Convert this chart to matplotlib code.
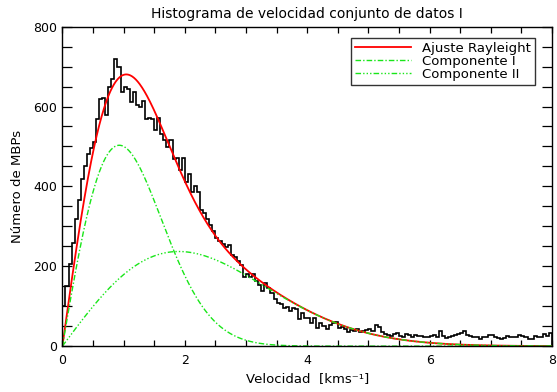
import numpy as np
import matplotlib
matplotlib.use("Agg")
import matplotlib.pyplot as plt
from matplotlib.ticker import MultipleLocator

# ---- data ----
bin_width = 0.05
bin_start = 0.0
counts = [
    100, 150, 205, 258, 318, 365, 418, 450, 480, 497,
    510, 570, 620, 622, 578, 648, 668, 718, 698, 637,
    650, 645, 612, 637, 604, 600, 614, 570, 571, 570,
    540, 572, 530, 516, 498, 515, 468, 472, 440, 470,
    412, 432, 385, 402, 385, 342, 333, 318, 304, 288,
    270, 263, 255, 248, 254, 228, 224, 212, 203, 172,
    180, 172, 180, 163, 154, 138, 158, 146, 133, 117,
    108, 106, 96, 99, 88, 96, 92, 67, 83, 71,
    70, 58, 71, 46, 58, 50, 42, 54, 58, 60,
    46, 47, 44, 35, 40, 38, 44, 36, 38, 40,
    42, 38, 52, 48, 35, 31, 28, 25, 30, 33,
    26, 24, 30, 28, 22, 29, 26, 25, 23, 22,
    26, 29, 24, 37, 26, 21, 22, 25, 28, 30,
    34, 38, 29, 26, 24, 23, 18, 24, 24, 29,
    27, 24, 20, 18, 21, 26, 24, 22, 22, 28,
    25, 22, 18, 19, 26, 24, 23, 30, 26, 33,
]

# Rayleigh fit components: peak height and position (sigma)
comp_names = ["Componente I", "Componente II"]
comp_peak = [503.0, 237.0]
comp_sigma = [0.93, 1.90]
fit_name = "Ajuste Rayleight"

title = "Histograma de velocidad conjunto de datos I"
xlabel = "Velocidad  [kms\u207b\u00b9]"
ylabel = "N\u00famero de MBPs"

# ---- plotting ----
plt.rcParams['font.family'] = ['DejaVu Sans']
fig = plt.figure(figsize=(5.57, 3.92), dpi=100)
ax = fig.add_axes([0.112, 0.117, 0.879, 0.815])

edges = bin_start + bin_width * np.arange(len(counts) + 1)
ax.stairs(counts, edges, color='black', lw=1.2, baseline=0)

x = np.linspace(0, 8, 800)
def rayleigh(xx, peak, s):
    u = xx / s
    return peak * u * np.exp(0.5 * (1 - u ** 2))

c1 = rayleigh(x, comp_peak[0], comp_sigma[0])
c2 = rayleigh(x, comp_peak[1], comp_sigma[1])
green = '#19e619'
ax.plot(x, c1 + c2, color='#ff0000', lw=1.3, label=fit_name)
ax.plot(x, c1, color=green, lw=1.0, ls=(0, (4, 1.5, 1, 1.5)), label=comp_names[0])
ax.plot(x, c2, color=green, lw=1.0, ls=(0, (4, 1.5, 1, 1.5, 1, 1.5, 1, 1.5)), label=comp_names[1])

ax.set_xlim(0, 8)
ax.set_ylim(0, 800)
ax.xaxis.set_major_locator(MultipleLocator(2))
ax.xaxis.set_minor_locator(MultipleLocator(0.5))
ax.yaxis.set_major_locator(MultipleLocator(200))
ax.yaxis.set_minor_locator(MultipleLocator(50))
ax.tick_params(axis='both', which='both', direction='in', top=True, right=True,
               labelsize=9, width=0.9)
ax.tick_params(axis='x', which='both', length=4, pad=6)
ax.tick_params(axis='y', which='both', length=7, pad=4)
for sp in ax.spines.values():
    sp.set_linewidth(1.0)

ax.set_title(title, fontsize=10, pad=6)
ax.set_xlabel(xlabel, fontsize=9.5, labelpad=3)
ax.set_ylabel(ylabel, fontsize=9.5, labelpad=6)

leg = ax.legend(loc='upper right', bbox_to_anchor=(0.965, 0.965), fontsize=9.5,
                handlelength=4.3, frameon=True, fancybox=False, borderpad=0.3,
                labelspacing=0.0, handletextpad=0.8, borderaxespad=0)
leg.get_frame().set_edgecolor('black')
leg.get_frame().set_linewidth(1.0)

fig.savefig("out.png", dpi=100)
